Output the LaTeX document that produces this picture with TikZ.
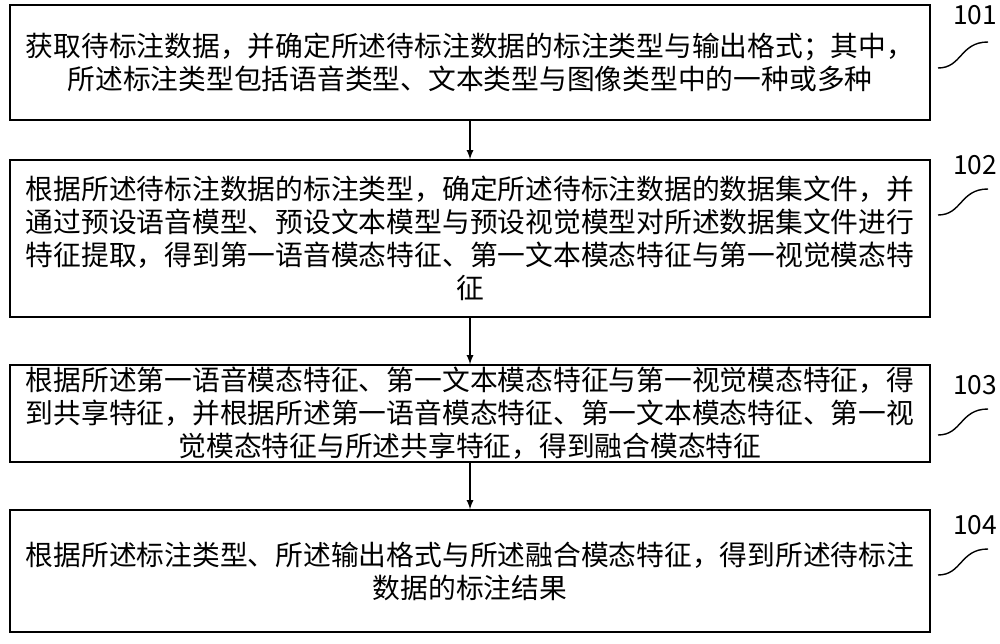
\documentclass[tikz,border=0pt]{standalone}
\usepackage{fontspec}
\setmainfont{Noto Sans CJK SC}
\usetikzlibrary{positioning}
\begin{document}
\begin{tikzpicture}[x=0.02cm,y=-0.02cm,
stepbox/.style={draw, thick, minimum width=18.4cm, align=center, font=\fontsize{15.8}{18.8}\selectfont, inner sep=0pt},
numlabel/.style={font=\fontsize{15}{18}\selectfont},
]
\useasboundingbox (0,0) rectangle (1000,643);
%Nodes
\node[stepbox, minimum height=2.3cm] (s1) at (470,62.5) {获取待标注数据，并确定所述待标注数据的标注类型与输出格式；其中，\\所述标注类型包括语音类型、文本类型与图像类型中的一种或多种};
\node[stepbox, minimum height=3.14cm] (s2) at (470,238.5) {根据所述待标注数据的标注类型，确定所述待标注数据的数据集文件，并\\通过预设语音模型、预设文本模型与预设视觉模型对所述数据集文件进行\\特征提取，得到第一语音模态特征、第一文本模态特征与第一视觉模态特\\征};
\node[stepbox, minimum height=1.94cm] (s3) at (470,413.5) {根据所述第一语音模态特征、第一文本模态特征与第一视觉模态特征，得\\到共享特征，并根据所述第一语音模态特征、第一文本模态特征、第一视\\觉模态特征与所述共享特征，得到融合模态特征};
\node[stepbox, minimum height=2.44cm] (s4) at (470,571) {根据所述标注类型、所述输出格式与所述融合模态特征，得到所述待标注\\数据的标注结果};
\node[numlabel] (n1) at (975,15) {101};
\node[numlabel] (n2) at (975,165) {102};
\node[numlabel] (n3) at (975,385) {103};
\node[numlabel] (n4) at (975,525) {104};
%Lines
\draw[-latex, thick] (s1.south) -- (s2.north);
\draw[-latex, thick] (s2.south) -- (s3.north);
\draw[-latex, thick] (s3.south) -- (s4.north);
\foreach \n/\yy in {1/68,2/215,3/435,4/575}{
\draw[thick] (938,\yy) .. controls (962,\yy) and (960,\yy-26) .. (988,\yy-26);
}
\end{tikzpicture}
\end{document}
